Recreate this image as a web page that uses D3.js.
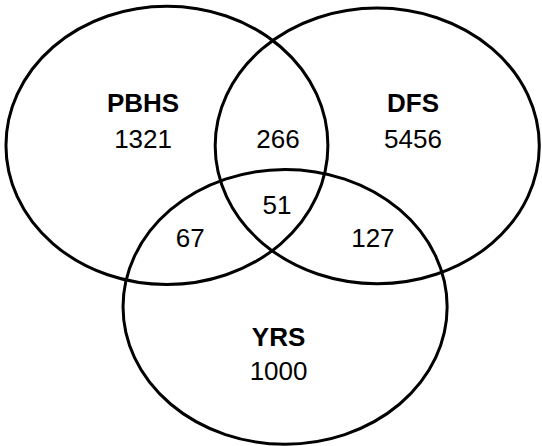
<!DOCTYPE html>
<html>
<head>
<meta charset="utf-8">
<script src="https://cdn.jsdelivr.net/npm/d3@7"></script>
<style>
  html, body { margin: 0; padding: 0; background: #fff; }
  svg { display: block; }
  text { font-family: "Liberation Sans", Arial, sans-serif; fill: #000; }
</style>
</head>
<body>
<svg id="chart" width="542" height="446"></svg>
<script>
// ---- data ----
const setNames = ["PBHS", "DFS", "YRS"];
const setOnlyCounts = [1321, 5456, 1000];
const pairLabels = ["PBHS∩DFS", "PBHS∩YRS", "DFS∩YRS"];
const pairCounts = [266, 67, 127];
const tripleCount = 51;

// ---- layout (abstract units, mapped via scales) ----
const W = 542, H = 446;
const x = d3.scaleLinear().domain([0, 100]).range([0, W]);
const y = d3.scaleLinear().domain([0, 100]).range([0, H]);

const ellipseLayout = [
  { cx: 30.8, cy: 32.6, rx: 29.7, ry: 31.2 },   // PBHS
  { cx: 69.6, cy: 32.7, rx: 29.9, ry: 30.9 },   // DFS
  { cx: 52.6, cy: 68.8, rx: 29.9, ry: 30.8 }    // YRS
];
const setLabelPos = [
  { x: 26.4, nameY: 25.1, valY: 33.2 },
  { x: 76.2, nameY: 25.1, valY: 33.2 },
  { x: 51.4, nameY: 77.6, valY: 85.2 }
];
const pairPos = [
  { x: 51.3, y: 33.2 },
  { x: 35.1, y: 55.4 },
  { x: 68.8, y: 55.4 }
];
const triplePos = { x: 51.1, y: 48.0 };

const svg = d3.select("#chart");

svg.append("g").selectAll("ellipse")
  .data(ellipseLayout)
  .join("ellipse")
  .attr("cx", d => x(d.cx))
  .attr("cy", d => y(d.cy))
  .attr("rx", d => x(d.rx))
  .attr("ry", d => y(d.ry))
  .attr("fill", "none")
  .attr("stroke", "#000")
  .attr("stroke-width", 3);

const fs = 26;
const lab = svg.append("g").attr("text-anchor", "middle").attr("font-size", fs);

lab.selectAll("text.name")
  .data(setNames)
  .join("text")
  .attr("class", "name")
  .attr("x", (d, i) => x(setLabelPos[i].x))
  .attr("y", (d, i) => y(setLabelPos[i].nameY))
  .attr("font-weight", "bold")
  .text(d => d);

lab.selectAll("text.val")
  .data(setOnlyCounts)
  .join("text")
  .attr("class", "val")
  .attr("x", (d, i) => x(setLabelPos[i].x))
  .attr("y", (d, i) => y(setLabelPos[i].valY))
  .text(d => d);

lab.selectAll("text.pair")
  .data(pairCounts)
  .join("text")
  .attr("class", "pair")
  .attr("x", (d, i) => x(pairPos[i].x))
  .attr("y", (d, i) => y(pairPos[i].y))
  .text(d => d);

lab.append("text")
  .attr("x", x(triplePos.x))
  .attr("y", y(triplePos.y))
  .text(tripleCount);
</script>
</body>
</html>
